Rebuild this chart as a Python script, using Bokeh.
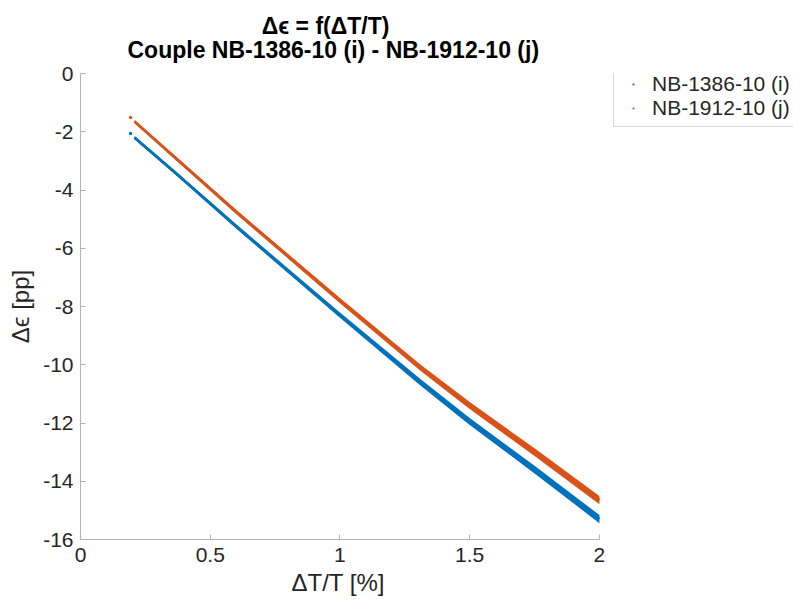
from bokeh.plotting import figure
from bokeh.models import Range1d, FixedTicker, Title, Legend, LegendItem
from bokeh.embed import file_html
from bokeh.resources import INLINE

# Series data: ΔT/T [%] against Δϵ [pp]
series_names = ["NB-1386-10 (i)", "NB-1912-10 (j)"]
colors = ["#0072BD", "#D95319"]

# isolated first sample of each series
first_x = [0.193, 0.193]
first_y = [-2.06, -1.51]

# dense sample cloud: centre line and half spread of the cloud
dt_x = [0.208, 0.385, 0.6, 1.0, 1.31, 1.5, 1.75, 2.0]
eps_i = [-2.2, -3.56, -5.25, -8.3, -10.6, -11.95, -13.6, -15.3]
eps_j = [-1.65, -3.05, -4.75, -7.8, -10.1, -11.4, -13.0, -14.65]
spread_i = [0.05, 0.06, 0.07, 0.09, 0.11, 0.12, 0.13, 0.14]
spread_j = [0.05, 0.06, 0.07, 0.09, 0.11, 0.12, 0.13, 0.14]

x_ticks = [0, 0.5, 1, 1.5, 2]
y_ticks = [0, -2, -4, -6, -8, -10, -12, -14, -16]

title_lines = ["\u0394\u03f5 = f(\u0394T/T)", "Couple NB-1386-10 (i) - NB-1912-10 (j)"]

FONT = "Liberation Sans"
TEXT = "#262626"

# the frame runs to the right edge so the legend can sit beside the axes;
# the x axis itself is bounded to 0..2
p = figure(width=793, height=605, output_backend="svg", toolbar_location=None,
           x_range=Range1d(0, 2.748), y_range=Range1d(-16, 0),
           min_border_left=80, min_border_right=0,
           min_border_top=73, min_border_bottom=66)
p.outline_line_color = None
p.xgrid.visible = False
p.ygrid.visible = False
p.background_fill_color = "white"
p.border_fill_color = "white"

# two-line title over the axes; the short first line is padded with
# no-break spaces so that it sits centred over the second one
p.title.text = "\u00a0" * 21 + title_lines[0] + "\n" + title_lines[1]
p.title.align = "left"
p.title.offset = 47
p.title.text_font = FONT
p.title.text_font_size = "23px"
p.title.text_font_style = "bold"
p.title.text_color = "black"
p.title.text_line_height = 0.95
p.title.standoff = 20

for ax, ticks in ((p.xaxis, x_ticks), (p.yaxis, y_ticks)):
    ax.ticker = FixedTicker(ticks=ticks)
    ax.axis_line_color = "#b3b3b3"
    ax.major_tick_line_color = "#b3b3b3"
    ax.major_tick_in = 5
    ax.major_tick_out = 0
    ax.minor_tick_line_color = None
    ax.major_label_text_font = FONT
    ax.major_label_text_font_size = "21px"
    ax.major_label_text_color = TEXT
    ax.axis_label_text_font = FONT
    ax.axis_label_text_font_size = "24px"
    ax.axis_label_text_font_style = "normal"
    ax.axis_label_text_color = TEXT

p.xaxis.bounds = (0, 2)
p.yaxis.axis_label = "\u0394\u03f5 [pp]"
p.xaxis.major_label_standoff = 8
p.yaxis.major_label_standoff = 7
p.yaxis.axis_label_standoff = 6
p.yaxis.major_label_overrides = {t: str(t) for t in y_ticks}
p.xaxis.major_label_overrides = {0: "0", 0.5: "0.5", 1: "1", 1.5: "1.5", 2: "2"}

# x axis label, centred under the bounded axis
p.add_layout(Title(text="\u0394T/T [%]", align="left", offset=211,
                   text_font=FONT, text_font_size="24px",
                   text_font_style="normal", text_color=TEXT,
                   text_line_height=1.0, standoff=4), "below")

items = []
for k, (ys, sp) in enumerate(((eps_i, spread_i), (eps_j, spread_j))):
    lo = [y - s for y, s in zip(ys, sp)]
    hi = [y + s for y, s in zip(ys, sp)]
    p.varea(x=dt_x, y1=lo, y2=hi, fill_color=colors[k])
    p.line(x=dt_x, y=ys, line_color=colors[k], line_width=2.8)
    dot = p.scatter(x=[first_x[k]], y=[first_y[k]], marker="dot", size=14,
                    color=colors[k])
    items.append(LegendItem(label=series_names[k], renderers=[dot]))

# legend to the right of the axes, bottom-left corner in pixels from the frame
legend = Legend(items=items, location=(533, 412),
                padding=6, spacing=0, glyph_width=26, glyph_height=22,
                label_height=22, label_standoff=6, label_text_font=FONT,
                label_text_font_size="21px", label_text_color=TEXT,
                border_line_color="#b3b3b3", background_fill_alpha=1)
p.add_layout(legend, "center")

open("out.html", "w").write(file_html(p, INLINE))
